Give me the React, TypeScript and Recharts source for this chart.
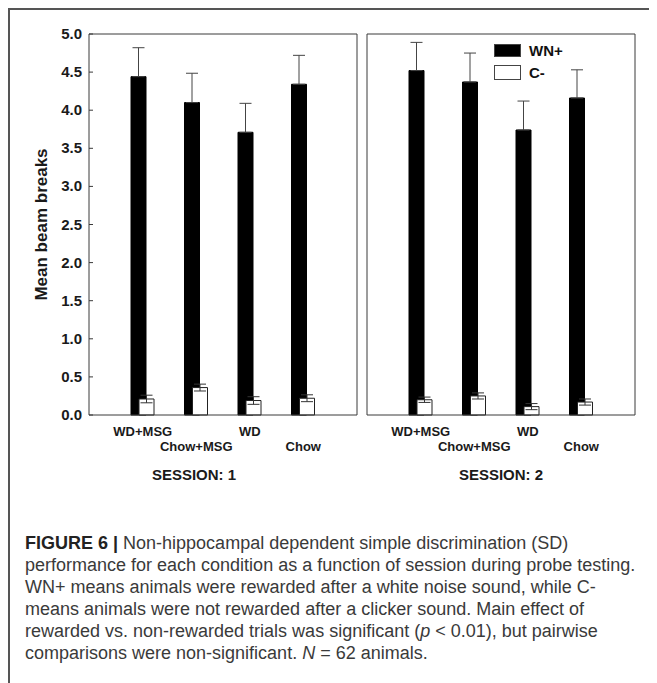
import React from 'react';
import { BarChart, Bar, XAxis, YAxis, ErrorBar, Legend } from 'recharts';

const FONT = '"Liberation Sans", Arial, Helvetica, sans-serif';

const categories = ['WD+MSG', 'Chow+MSG', 'WD', 'Chow'];
const seriesNames = ['WN+', 'C-'];
const sessionLabels = ['SESSION: 1', 'SESSION: 2'];

const session1WN = [4.44, 4.1, 3.71, 4.34];
const session1WNErr = [0.38, 0.385, 0.38, 0.38];
const session1C = [0.21, 0.36, 0.19, 0.22];
const session1CErr = [0.05, 0.045, 0.05, 0.045];

const session2WN = [4.52, 4.37, 3.74, 4.16];
const session2WNErr = [0.37, 0.38, 0.38, 0.37];
const session2C = [0.2, 0.25, 0.11, 0.17];
const session2CErr = [0.035, 0.04, 0.04, 0.04];

const yTicks = [0, 0.5, 1, 1.5, 2, 2.5, 3, 3.5, 4, 4.5, 5];
const rightTicks = [0, 1, 2, 3, 4, 5, 6, 7, 8, 9, 10, 11, 12];

function buildData(wn: number[], wnErr: number[], c: number[], cErr: number[]) {
  return categories.map((cat, i) => ({
    cat,
    wn: wn[i],
    wnErr: [0, wnErr[i]],
    c: c[i],
    cErr: cErr[i],
  }));
}

const data1 = buildData(session1WN, session1WNErr, session1C, session1CErr);
const data2 = buildData(session2WN, session2WNErr, session2C, session2CErr);

const AXIS = '#3a3a3a';

const YTickWithInner = (props: any) => {
  const { x, y, payload } = props;
  return (
    <g>
      <line x1={x + 7} x2={x + 11} y1={y} y2={y} stroke={AXIS} strokeWidth={1} />
      <text
        x={x}
        y={y}
        dy={5}
        textAnchor="end"
        fontFamily={FONT}
        fontSize={15}
        fontWeight="bold"
        fill="#1a1a1a"
      >
        {Number(payload.value).toFixed(1)}
      </text>
    </g>
  );
};

const XTickStaggered = (props: any) => {
  const { x, y, payload, index } = props;
  const i = typeof index === 'number' ? index : payload.index;
  const row = i % 2;
  return (
    <text
      x={x}
      y={y + (row ? 36 : 21)}
      textAnchor="middle"
      fontFamily={FONT}
      fontSize={13}
      fontWeight="bold"
      fill="#1a1a1a"
    >
      {payload.value}
    </text>
  );
};

const LegendContent = (props: any) => {
  const payload = [...(props.payload || [])].sort(
    (a: any, b: any) => seriesNames.indexOf(a.value) - seriesNames.indexOf(b.value)
  );
  return (
    <div style={{ fontFamily: FONT }}>
      {payload.map((p: any, i: number) => (
        <div key={i} style={{ display: 'flex', alignItems: 'center', height: i === 0 ? 20 : 16 }}>
          <div
            style={{
              width: 27,
              height: i === 0 ? 13 : 15,
              boxSizing: 'border-box',
              background: p.color,
              border: '1px solid #444',
              marginRight: 8,
              marginBottom: i === 0 ? 7 : 0,
            }}
          />
          <span
            style={{
              fontSize: 15,
              fontWeight: 'bold',
              color: '#111',
              marginBottom: i === 0 ? 7 : 0,
            }}
          >
            {p.value}
          </span>
        </div>
      ))}
    </div>
  );
};

type PanelProps = {
  data: any[];
  width: number;
  marginLeft: number;
  marginRight: number;
  showYLabels: boolean;
  session: string;
  sessionDx: number;
  showLegend: boolean;
};

const Panel = ({
  data,
  width,
  marginLeft,
  marginRight,
  showYLabels,
  session,
  sessionDx,
  showLegend,
}: PanelProps) => (
  <BarChart
    width={width}
    height={480}
    data={data}
    margin={{ top: 26, right: marginRight, bottom: 0, left: marginLeft }}
    barGap={-7}
    barSize={15}
  >
    <XAxis
      xAxisId="bottom"
      dataKey="cat"
      orientation="bottom"
      height={73}
      padding={{ left: 27, right: 27 }}
      axisLine={{ stroke: AXIS, strokeWidth: 1 }}
      tickLine={false}
      tickSize={0}
      tickMargin={0}
      interval={0}
      tick={<XTickStaggered />}
      label={(lp: any) => {
        const vb = lp.viewBox || {};
        return (
          <text
            x={(vb.x || 0) + sessionDx}
            y={(vb.y || 0) + 65}
            textAnchor="middle"
            fontFamily={FONT}
            fontSize={15}
            fontWeight="bold"
            fill="#1a1a1a"
          >
            {session}
          </text>
        );
      }}
    />
    <XAxis
      xAxisId="top"
      dataKey="cat"
      orientation="top"
      height={1}
      mirror
      padding={{ left: 27, right: 27 }}
      axisLine={{ stroke: AXIS, strokeWidth: 1 }}
      tickLine={{ stroke: AXIS, strokeWidth: 1 }}
      tickSize={4}
      tick={false}
      interval={0}
    />
    {showYLabels ? (
      <YAxis
        yAxisId="left"
        domain={[0, 5]}
        ticks={yTicks}
        width={81}
        axisLine={{ stroke: AXIS, strokeWidth: 1 }}
        tickLine={false}
        tickSize={0}
        tickMargin={7}
        interval={0}
        tick={<YTickWithInner />}
        label={(lp: any) => {
          const vb = lp.viewBox || {};
          const cx = (vb.x || 0) + 33;
          const cy = (vb.y || 0) + (vb.height || 0) / 2;
          return (
            <text
              x={cx}
              y={cy}
              transform={`rotate(-90, ${cx}, ${cy})`}
              textAnchor="middle"
              dominantBaseline="central"
              fontFamily={FONT}
              fontSize={17}
              fontWeight="bold"
              fill="#1a1a1a"
            >
              Mean beam breaks
            </text>
          );
        }}
      />
    ) : (
      <YAxis
        yAxisId="left"
        domain={[0, 5]}
        ticks={yTicks}
        width={1}
        mirror
        axisLine={{ stroke: AXIS, strokeWidth: 1 }}
        tickLine={{ stroke: AXIS, strokeWidth: 1 }}
        tickSize={4}
        tick={false}
        interval={0}
      />
    )}
    <YAxis
      yAxisId="right"
      orientation="right"
      domain={[0, 12]}
      ticks={rightTicks}
      width={1}
      mirror
      axisLine={{ stroke: AXIS, strokeWidth: 1 }}
      tickLine={{ stroke: AXIS, strokeWidth: 1 }}
      tickSize={4}
      tick={false}
      interval={0}
    />
    {showLegend && (
      <Legend
        layout="vertical"
        align="center"
        verticalAlign="middle"
        wrapperStyle={{ position: 'absolute', left: 134, top: 36, width: 90, height: 40 }}
        content={<LegendContent />}
      />
    )}
    <Bar
      dataKey="wn"
      name={seriesNames[0]}
      xAxisId="bottom"
      yAxisId="left"
      fill="#000000"
      stroke="#000000"
      strokeWidth={1}
      isAnimationActive={false}
    >
      <ErrorBar dataKey="wnErr" width={6} stroke="#444" strokeWidth={1} direction="y" />
    </Bar>
    <Bar
      dataKey="c"
      name={seriesNames[1]}
      xAxisId="bottom"
      yAxisId="left"
      fill="#ffffff"
      stroke="#222"
      strokeWidth={1}
      isAnimationActive={false}
    >
      <ErrorBar dataKey="cErr" width={6} stroke="#333" strokeWidth={1} direction="y" />
    </Bar>
  </BarChart>
);

export default function App() {
  return (
    <div style={{ position: 'relative', width: 649, height: 675, background: '#fff' }}>
      <div style={{ position: 'absolute', left: 0, top: 0, width: 649, height: 2, background: '#555' }} />
      <div style={{ position: 'absolute', left: 0, top: 0, width: 2, height: 675, background: '#555' }} />
      <div style={{ position: 'absolute', left: 0, top: 0 }}>
        <Panel
          data={data1}
          width={360}
          marginLeft={0}
          marginRight={11}
          showYLabels
          session={sessionLabels[0]}
          sessionDx={105}
          showLegend={false}
        />
      </div>
      <div style={{ position: 'absolute', left: 352, top: 0 }}>
        <Panel
          data={data2}
          width={290}
          marginLeft={7}
          marginRight={15}
          showYLabels={false}
          session={sessionLabels[1]}
          sessionDx={134}
          showLegend
        />
      </div>
      <div
        style={{
          position: 'absolute',
          left: 17,
          top: 524,
          width: 632,
          fontFamily: FONT,
          fontSize: 18,
          lineHeight: '22px',
          color: '#3a3a3a',
          whiteSpace: 'nowrap',
        }}
      >
        <b style={{ color: '#222' }}>FIGURE 6 |</b> Non-hippocampal dependent simple discrimination (SD)
        <br />
        performance for each condition as a function of session during probe testing.
        <br />
        WN+ means animals were rewarded after a white noise sound, while C-
        <br />
        means animals were not rewarded after a clicker sound. Main effect of
        <br />
        rewarded vs. non-rewarded trials was significant (<i>p</i> &lt; 0.01), but pairwise
        <br />
        comparisons were non-significant. <i>N</i> = 62 animals.
      </div>
    </div>
  );
}
